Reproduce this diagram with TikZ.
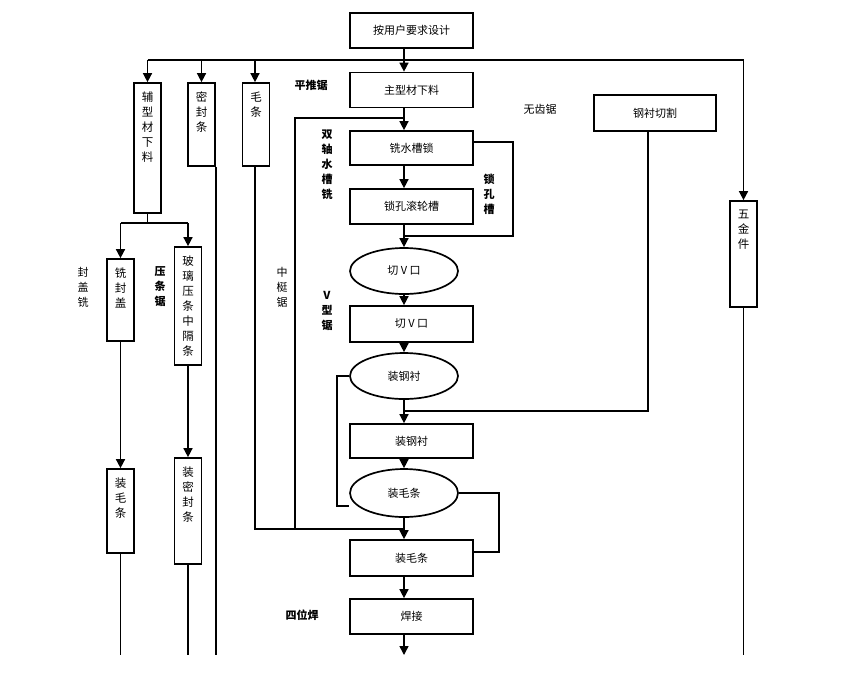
\documentclass[tikz,border=0pt]{standalone}
\usepackage{fontspec}
\setmainfont{Noto Sans CJK SC}
\usetikzlibrary{arrows.meta,shapes.geometric}
\tikzset{
 base/.style={draw,line width=1.7pt,inner sep=0pt,font=\fontsize{11}{13}\selectfont},
 box/.style={base,rectangle,minimum width=123pt,minimum height=35pt},
 vbox/.style={base,rectangle,minimum width=27pt},
 ell/.style={base,ellipse,minimum width=108pt,minimum height=46pt},
 ln/.style={line width=1.5pt},
 arr/.style={ln,-{Triangle[width=9pt,length=9pt]}},
 vlab/.style={align=center,font=\fontsize{11.5}{15}\selectfont,inner sep=0pt},
 inlab/.style={vlab,anchor=north,yshift=-9.5pt},
 blab/.style={align=center,font=\bfseries\fontsize{11}{15}\selectfont,inner sep=0pt},
 nlab/.style={align=center,font=\fontsize{11}{15}\selectfont,inner sep=0pt}
}
\begin{document}
\begin{tikzpicture}[x=1pt,y=-1pt]
\useasboundingbox (0,0) rectangle (850,681);
% main column
\node[box] (top) at (411.5,30.5) {按用户要求设计};
\node[box] (zx) at (411.5,90) {主型材下料};
\node[box,minimum height=34pt] (xs) at (411.5,148) {铣水槽锁};
\node[box] (sk) at (411.5,206.5) {锁孔滚轮槽};
\node[ell] (e1) at (404,271) {切 V 口};
\node[box,minimum height=36pt] (qv) at (411.5,324) {切 V 口};
\node[ell] (e2) at (404,376) {装钢衬};
\node[box,minimum height=34pt] (zg) at (411.5,441) {装钢衬};
\node[ell,minimum height=48pt] (e3) at (404,493) {装毛条};
\node[box,minimum height=36pt] (zm) at (411.5,558) {装毛条};
\node[box] (hj) at (411.5,616.5) {焊接};
\node[box,minimum width=122pt,minimum height=36pt] (gc) at (655,113) {钢衬切割};
% vertical boxes
\node[vbox,minimum height=130pt,label={[inlab]north:辅\\型\\材\\下\\料}] (fu) at (147.5,148) {};
\node[vbox,minimum height=83pt,label={[inlab]north:密\\封\\条}] (mf) at (201.5,124.5) {};
\node[vbox,minimum height=83pt,label={[inlab]north:毛\\条}] (mt) at (256,124.5) {};
\node[vbox,minimum height=82pt,label={[inlab]north:铣\\封\\盖}] (xf) at (120.5,300) {};
\node[vbox,minimum height=118pt,label={[inlab]north:玻\\璃\\压\\条\\中\\隔\\条}] (bl) at (188,306) {};
\node[vbox,minimum height=84pt,label={[inlab]north:装\\毛\\条}] (zm2) at (120.5,511) {};
\node[vbox,minimum height=106pt,label={[inlab]north:装\\密\\封\\条}] (zmf) at (188,511) {};
\node[vbox,minimum height=106pt,label={[inlab]north:五\\金\\件}] (wj) at (743.5,254) {};
% labels
\node[blab] (l1) at (311,85) {平推锯};
\node[nlab] (l2) at (540,109) {无齿锯};
\node[blab] (l3) at (327,165) {双\\轴\\水\\槽\\铣};
\node[blab] (l4) at (489,194) {锁\\孔\\槽};
\node[blab] (l5) at (327,311) {V\\型\\锯};
\node[nlab] (l6) at (282,287) {中\\梃\\锯};
\node[nlab] (l7) at (83,287) {封\\盖\\铣};
\node[blab] (l8) at (160,287) {压\\条\\锯};
\node[blab] (l9) at (302,615) {四位焊};
% coordinates
\coordinate (bus) at (0,60);
\coordinate (fs) at (0,223);
\coordinate (bot) at (0,655);
\coordinate (jm) at (404,529);
\coordinate (zt) at (295,118);
\coordinate (lk) at (513,236);
\coordinate (gj) at (404,411);
\coordinate (lp) at (337,506);
\coordinate (rp) at (499,552);
% top bus
\draw[ln] (fu.north |- bus) -- (wj.north |- bus);
\draw[arr] (fu.north |- bus) -- (fu.north);
\draw[arr] (mf.north |- bus) -- (mf.north);
\draw[arr] ([xshift=-1pt]mt.north |- bus) -- ([xshift=-1pt]mt.north);
\draw[arr] (wj.north |- bus) -- (wj.north);
\draw[arr] (top.south -| e1) -- (zx.north -| e1);
% auxiliary split
\draw[ln] (fu.south) -- (fu.south |- fs);
\draw[ln] (xf.north |- fs) -- (bl.north |- fs);
\draw[arr] (xf.north |- fs) -- (xf.north);
\draw[arr] (bl.north |- fs) -- (bl.north);
\draw[arr] (xf.south) -- (zm2.north);
\draw[arr] (bl.south) -- (zmf.north);
% bottom lines
\draw[ln] (zm2.south) -- (zm2.south |- bot);
\draw[ln] (zmf.south) -- (zmf.south |- bot);
\draw[ln] (mf.south east) -- (mf.south east |- bot);
\draw[ln] (wj.south) -- (wj.south |- bot);
% main flow
\draw[arr] (zx.south -| e1) -- (xs.north -| e1);
\draw[ln] (zt -| e1) -- (zt) -- (zt |- jm);
\draw[ln] ([xshift=-1pt]mt.south) |- (jm);
\draw[arr] (xs.south -| e1) -- (sk.north -| e1);
\draw[ln] ([yshift=6pt]xs.east) -| (lk) -- (lk -| e1);
\draw[ln] (sk.south -| e1) -- (lk -| e1);
\draw[arr] (lk -| e1) -- (e1.north);
\draw[arr] (e1.south) -- (qv.north -| e1);
\draw[arr] (qv.south -| e2) -- (e2.north);
\draw[ln] (e2.south) -- (gj);
\draw[ln] ([xshift=-7pt]gc.south) |- (gj);
\draw[arr] (gj) -- (zg.north -| e2);
\draw[ln] (e2.west) -| (lp) -- (lp -| e3.west);
\draw[arr] (zg.south -| e3) -- (e3.north);
\draw[ln] (e3.east) -| (rp) -- (rp -| zm.east);
\draw[arr] (e3.south) -- (zm.north -| e3);
\draw[arr] (zm.south -| e3) -- (hj.north -| e3);
\draw[arr] (hj.south -| e3) -- (e3 |- bot);
\end{tikzpicture}
\end{document}
